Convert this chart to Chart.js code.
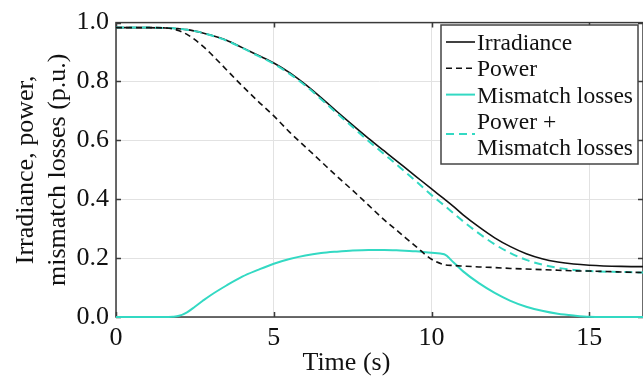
<!DOCTYPE html>
<html>
<head>
<meta charset="utf-8">
<script src="https://cdn.jsdelivr.net/npm/chart.js@4.4.0/dist/chart.umd.min.js"></script>
<style>
  html, body { margin: 0; padding: 0; background: #fff; }
</style>
</head>
<body>
<canvas id="chart" width="643" height="376"></canvas>
<script>
// values (time in s, everything else in p.u.)
const timeS = [0, 1, 1.5, 1.8, 2, 2.25, 2.5, 2.75, 3, 3.5, 4, 4.5, 5, 5.5, 6, 6.5, 7, 7.5, 8, 8.5,
  9, 9.5, 10, 10.4, 10.7, 11, 11.5, 12, 12.5, 13, 13.5, 14, 14.5, 15, 16, 16.7];
const irradiance = [0.983, 0.983, 0.982, 0.981, 0.979, 0.976, 0.971, 0.965, 0.958, 0.94, 0.915, 0.889,
  0.863, 0.83, 0.79, 0.745, 0.698, 0.652, 0.607, 0.564, 0.521, 0.478, 0.435, 0.401, 0.375, 0.347,
  0.306, 0.269, 0.239, 0.215, 0.198, 0.187, 0.18, 0.176, 0.172, 0.171];
const power = [0.983, 0.983, 0.982, 0.979, 0.972, 0.96, 0.942, 0.92, 0.895, 0.84, 0.785, 0.733,
  0.683, 0.628, 0.578, 0.528, 0.478, 0.43, 0.38, 0.33, 0.285, 0.24, 0.196, 0.178, 0.175, 0.173,
  0.17, 0.168, 0.165, 0.163, 0.161, 0.159, 0.157, 0.156, 0.153, 0.151];
const mismatchLosses = [0, 0, 0, 0.001, 0.004, 0.016, 0.035, 0.055, 0.074, 0.107, 0.137, 0.16,
  0.181, 0.197, 0.209, 0.217, 0.222, 0.226, 0.228, 0.228, 0.226, 0.223, 0.218, 0.213, 0.185, 0.155,
  0.115, 0.082, 0.055, 0.035, 0.021, 0.011, 0.005, 0.001, 0, 0];
const powerPlusMismatch = [0.983, 0.983, 0.982, 0.981, 0.979, 0.976, 0.971, 0.965, 0.957, 0.939,
  0.914, 0.887, 0.86, 0.826, 0.786, 0.74, 0.692, 0.645, 0.598, 0.553, 0.508, 0.462, 0.414, 0.379,
  0.352, 0.325, 0.284, 0.247, 0.217, 0.194, 0.178, 0.167, 0.16, 0.156, 0.153, 0.151];

const xTicks = [0, 5, 10, 15];
const yTicks = [0, 0.2, 0.4, 0.6, 0.8, 1.0];

const TEAL = '#33d9c3';
const INK = '#111';
const SERIF = '"Liberation Serif", "Times New Roman", serif';

function pts(ys) {
  return timeS.map((t, i) => ({ x: t, y: ys[i] }));
}

const datasets = [
  { label: 'Irradiance', data: pts(irradiance), borderColor: INK, borderWidth: 1.6, order: 3 },
  { label: 'Power', data: pts(power), borderColor: INK, borderWidth: 1.6, borderDash: [6, 4], order: 0 },
  { label: 'Mismatch losses', data: pts(mismatchLosses), borderColor: TEAL, borderWidth: 2, order: 2 },
  { label: ['Power +', 'Mismatch losses'], data: pts(powerPlusMismatch), borderColor: TEAL, borderWidth: 2,
    borderDash: [8, 5], order: 1 }
];
datasets.forEach(d => {
  d.pointRadius = 0;
  d.fill = false;
  d.cubicInterpolationMode = 'monotone';
  d.clip = { left: 2, top: 2, right: 2, bottom: 3 };
});

// box frame with inward ticks, drawn under the lines
const framePlugin = {
  id: 'frame',
  beforeDatasetsDraw(chart) {
    const { ctx, chartArea: a, scales } = chart;
    ctx.save();
    ctx.strokeStyle = '#3a3a3a';
    ctx.lineWidth = 1.5;
    ctx.strokeRect(a.left, a.top, a.right - a.left, a.bottom - a.top);
    ctx.beginPath();
    xTicks.forEach(v => {
      const x = Math.round(scales.x.getPixelForValue(v)) + 0.5;
      ctx.moveTo(x, a.bottom); ctx.lineTo(x, a.bottom - 5);
      ctx.moveTo(x, a.top); ctx.lineTo(x, a.top + 5);
    });
    yTicks.forEach(v => {
      const y = Math.round(scales.y.getPixelForValue(v)) + 0.5;
      ctx.moveTo(a.left, y); ctx.lineTo(a.left + 5, y);
      ctx.moveTo(a.right, y); ctx.lineTo(a.right - 5, y);
    });
    ctx.stroke();
    ctx.restore();
  },
  afterDraw(chart) {
    const { ctx, scales } = chart;
    ctx.save();
    // x axis title (sits left of centre in the original)
    ctx.fillStyle = INK;
    ctx.font = '26px ' + SERIF;
    ctx.textAlign = 'center';
    ctx.textBaseline = 'alphabetic';
    ctx.fillText('Time (s)', scales.x.getPixelForValue(7.3), 370);

    // legend box
    const bx = 441, by = 25, bw = 197, bh = 139;
    ctx.fillStyle = '#fff';
    ctx.fillRect(bx, by, bw, bh);
    ctx.strokeStyle = '#444';
    ctx.lineWidth = 1.5;
    ctx.strokeRect(bx, by, bw, bh);
    ctx.font = '23.5px ' + SERIF;
    ctx.textAlign = 'left';
    let base = 50;
    chart.data.datasets.forEach(d => {
      const lines = Array.isArray(d.label) ? d.label : [d.label];
      const firstMid = base - 8;
      const lastMid = base - 8 + 26.3 * (lines.length - 1);
      const sy = (firstMid + lastMid) / 2;
      ctx.beginPath();
      ctx.strokeStyle = d.borderColor;
      ctx.lineWidth = d.borderWidth;
      ctx.setLineDash(d.borderDash || []);
      ctx.moveTo(446, sy);
      ctx.lineTo(475, sy);
      ctx.stroke();
      ctx.setLineDash([]);
      ctx.fillStyle = INK;
      lines.forEach(t => {
        ctx.fillText(t, 477, base);
        base += 26.3;
      });
    });
    ctx.restore();
  }
};

new Chart(document.getElementById('chart'), {
  type: 'line',
  data: { datasets },
  options: {
    responsive: false,
    devicePixelRatio: 1,
    animation: false,
    layout: { padding: { top: 20, right: 0, left: 0, bottom: 0 } },
    plugins: { legend: { display: false }, tooltip: { enabled: false } },
    scales: {
      x: {
        type: 'linear',
        min: 0,
        max: 16.7,
        afterBuildTicks: s => { s.ticks = xTicks.map(v => ({ value: v })); },
        afterFit: s => { s.height = 59; },
        grid: { color: '#e2e2e2', lineWidth: 1, drawTicks: false },
        border: { display: false },
        ticks: { color: INK, font: { family: SERIF, size: 26 }, padding: 6, maxRotation: 0 }
      },
      y: {
        min: 0,
        max: 1,
        afterBuildTicks: s => { s.ticks = yTicks.map(v => ({ value: v })); },
        afterFit: s => { s.width = 116; },
        grid: { color: '#e2e2e2', lineWidth: 1, drawTicks: false },
        border: { display: false },
        ticks: { color: INK, font: { family: SERIF, size: 26 }, padding: 7,
          callback: v => v.toFixed(1) },
        title: {
          display: true,
          text: ['Irradiance, power,', 'mismatch losses (p.u.)'],
          color: INK,
          font: { family: SERIF, size: 26, lineHeight: 1.2 },
          padding: { top: 11, bottom: 0 }
        }
      }
    }
  },
  plugins: [framePlugin]
});
</script>
</body>
</html>
